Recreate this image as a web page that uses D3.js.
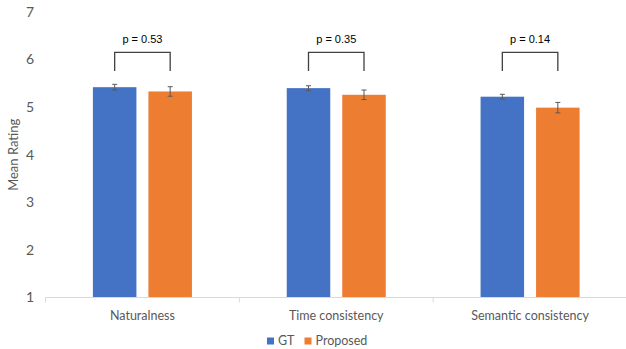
<!DOCTYPE html>
<html><head><meta charset="utf-8">
<script src="https://cdn.jsdelivr.net/npm/d3@7"></script>
<style>body{margin:0;background:#fff}svg{display:block}</style>
</head><body>
<script>
const categories = ["Naturalness", "Time consistency", "Semantic consistency"];
const seriesNames = ["GT", "Proposed"];
const gtValues = [5.42, 5.40, 5.22];
const proposedValues = [5.33, 5.26, 4.99];
const gtErrors = [0.06, 0.05, 0.05];
const proposedErrors = [0.10, 0.10, 0.11];
const pValues = ["p = 0.53", "p = 0.35", "p = 0.14"];
const yTicks = [1, 2, 3, 4, 5, 6, 7];

const W = 626, H = 349;
const colors = {GT: "#4472C4", Proposed: "#ED7D31"};
const svg = d3.select("body").append("svg").attr("width", W).attr("height", H);

const x0 = d3.scaleBand().domain(categories).range([45.5, 627]).paddingInner(0).paddingOuter(0);
const x1 = d3.scaleBand().domain(seriesNames).range([0, x0.bandwidth()]).paddingInner(0.216).paddingOuter(0.854);
const y = d3.scaleLinear().domain([1, 7]).range([297.5, 12]);

const font = "Lato, 'Open Sans', sans-serif";

// y tick labels
svg.append("g").selectAll("text").data(yTicks).join("text")
  .attr("x", 34).attr("y", d => y(d)).attr("dy", "0.35em")
  .attr("text-anchor", "end").attr("fill", "#595959")
  .style("font", `14px ${font}`).text(d => d);

// y title
svg.append("text").attr("transform", `translate(18,${(y(1)+y(7))/2}) rotate(-90)`)
  .attr("text-anchor", "middle").attr("fill", "#595959")
  .style("font", `13px ${font}`).text("Mean Rating");

const rows = categories.map((c, i) => ({
  cat: c,
  bars: [
    {s: "GT", v: gtValues[i], e: gtErrors[i]},
    {s: "Proposed", v: proposedValues[i], e: proposedErrors[i]}
  ],
  p: pValues[i]
}));

const g = svg.append("g").selectAll("g").data(rows).join("g")
  .attr("transform", d => `translate(${x0(d.cat)},0)`);

g.selectAll("rect").data(d => d.bars).join("rect")
  .attr("x", d => x1(d.s)).attr("width", x1.bandwidth())
  .attr("y", d => y(d.v)).attr("height", d => y(1) - y(d.v))
  .attr("fill", d => colors[d.s]);

// error bars
const eb = g.selectAll("g.err").data(d => d.bars).join("g").attr("class", "err");
eb.append("line")
  .attr("x1", d => x1(d.s) + x1.bandwidth()/2).attr("x2", d => x1(d.s) + x1.bandwidth()/2)
  .attr("y1", d => y(d.v + d.e)).attr("y2", d => y(d.v - d.e))
  .attr("stroke", "#595959").attr("stroke-width", 1);
[1, -1].forEach(sign => {
  eb.append("line")
    .attr("x1", d => x1(d.s) + x1.bandwidth()/2 - 2.5).attr("x2", d => x1(d.s) + x1.bandwidth()/2 + 2.5)
    .attr("y1", d => y(d.v + sign*d.e)).attr("y2", d => y(d.v + sign*d.e))
    .attr("stroke", "#595959").attr("stroke-width", 1);
});

// significance brackets
const bTop = 6.15, bBot = 5.76;
g.append("path")
  .attr("d", d => {
    const a = x1("GT") + x1.bandwidth()/2, b = x1("Proposed") + x1.bandwidth()/2;
    return `M${a},${y(bBot)}V${y(bTop)}H${b}V${y(bBot)}`;
  })
  .attr("fill", "none").attr("stroke", "#404040").attr("stroke-width", 1.3);
g.append("text")
  .attr("x", x0.bandwidth()/2).attr("y", y(bTop) - 9)
  .attr("text-anchor", "middle").attr("fill", "#000")
  .style("font", "11px 'Liberation Sans', Arial, sans-serif")
  .text(d => d.p);

// x axis
const xa = svg.append("g");
xa.append("line").attr("x1", x0.range()[0]).attr("x2", W).attr("y1", y(1)).attr("y2", y(1))
  .attr("stroke", "#d9d9d9").attr("stroke-width", 1);
xa.selectAll("line.tick").data(categories.concat(["end"])).join("line").attr("class", "tick")
  .attr("x1", (d, i) => x0.range()[0] + i * x0.step()).attr("x2", (d, i) => x0.range()[0] + i * x0.step())
  .attr("y1", y(1)).attr("y2", y(1) + 5).attr("stroke", "#d9d9d9");
xa.selectAll("text").data(categories).join("text")
  .attr("x", d => x0(d) + x0.bandwidth()/2).attr("y", 320)
  .attr("text-anchor", "middle").attr("fill", "#595959")
  .style("font", `12.5px ${font}`).text(d => d);

// legend
const leg = svg.append("g").attr("transform", "translate(267,341)");
const li = leg.selectAll("g").data(seriesNames).join("g")
  .attr("transform", (d, i) => `translate(${i * 37.5},0)`);
li.append("rect").attr("x", 0).attr("y", -3.5).attr("width", 7).attr("height", 7).attr("fill", d => colors[d]);
li.append("text").attr("x", 11).attr("y", 0).attr("dy", "0.35em").attr("fill", "#595959")
  .style("font", `12.5px ${font}`).text(d => d);
</script>
</body></html>
